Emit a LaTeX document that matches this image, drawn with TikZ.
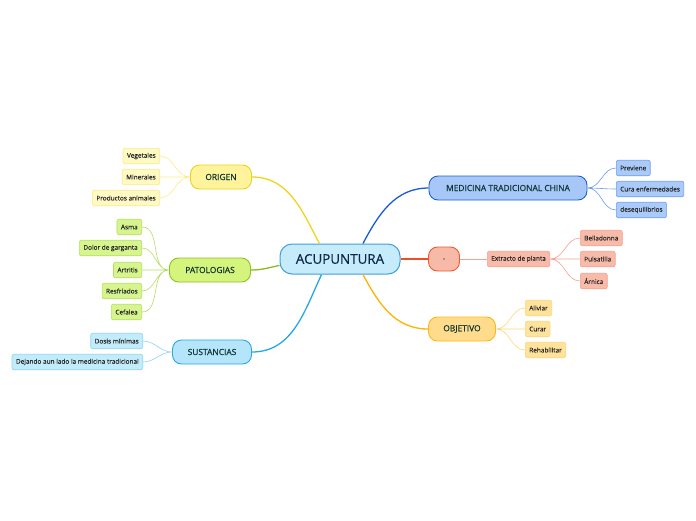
\documentclass[tikz,border=0pt]{standalone}
\usepackage{fontspec}
\setmainfont{Open Sans}
\newfontfamily\heavyfont[FakeBold=0.6]{Open Sans}
\newfontfamily\leaffont[FakeBold=0.25]{Open Sans}
\usepackage{xcolor}
\usepackage{tikz}
\usetikzlibrary{positioning}

\definecolor{rootfill}{HTML}{C6EBFB}
\definecolor{rootline}{HTML}{3F9FDB}
\definecolor{roottext}{HTML}{0E2848}
\definecolor{branchtext}{HTML}{103632}
\definecolor{leaftext}{HTML}{262626}
% origen
\definecolor{origfill}{HTML}{FFF49C}
\definecolor{origline}{HTML}{E8D41C}
\definecolor{origlink}{HTML}{F0D41C}
\definecolor{origleaf}{HTML}{FFF9C4}
\definecolor{origedge}{HTML}{FCEB8C}
% patologias
\definecolor{patofill}{HTML}{D5F47E}
\definecolor{patoline}{HTML}{8DC21F}
\definecolor{patolink}{HTML}{8AB920}
\definecolor{patoleaf}{HTML}{D7F58F}
\definecolor{patoedge}{HTML}{B5DF5E}
% sustancias
\definecolor{sustfill}{HTML}{B5E5FA}
\definecolor{sustline}{HTML}{2AA8E6}
\definecolor{sustlink}{HTML}{23A6EA}
\definecolor{sustleaf}{HTML}{C3ECFB}
\definecolor{sustedge}{HTML}{8FD3F3}
% medicina
\definecolor{mtcfill}{HTML}{A7C7F9}
\definecolor{mtcline}{HTML}{1E62D0}
\definecolor{mtclink}{HTML}{1A5CCF}
\definecolor{mtcleaf}{HTML}{AACAFA}
\definecolor{mtcedge}{HTML}{6E9EEA}
% punto
\definecolor{dotfill}{HTML}{F8BAA8}
\definecolor{dotline}{HTML}{EE5A2E}
\definecolor{dotlink}{HTML}{EE4E22}
\definecolor{dotleaf}{HTML}{F8BBAA}
\definecolor{dotedge}{HTML}{F5A192}
% objetivo
\definecolor{objfill}{HTML}{FFDC8C}
\definecolor{objline}{HTML}{FDB813}
\definecolor{objlink}{HTML}{FFB300}
\definecolor{objleaf}{HTML}{FFE29C}
\definecolor{objedge}{HTML}{FFD679}

\begin{document}
\begin{tikzpicture}[x=1pt, y=1pt,
  root/.style={draw=rootline, fill=rootfill, line width=1pt, rounded corners=12pt,
    minimum width=120pt, minimum height=30pt, text=roottext, font=\heavyfont\fontsize{13.4}{15}\selectfont},
  branch/.style={line width=0.9pt, rounded corners=9pt, minimum height=24pt, inner sep=0pt,
    text=branchtext, font=\heavyfont\fontsize{8.4}{10}\selectfont},
  leaf/.style={line width=0.6pt, rounded corners=2pt, minimum height=15.5pt, inner xsep=4pt,
    inner ysep=0pt, text=leaftext, font=\leaffont\fontsize{6.45}{7}\selectfont},
  link/.style={line width=1.3pt},
  twig/.style={line width=0.6pt}
]
\useasboundingbox (0,0) rectangle (696,-520);

% centre
\node[root] (root) at (340,-259) {ACUPUNTURA};

% branches
\node[branch, draw=origline, fill=origfill, minimum width=61pt] (origen) at (221,-177) {ORIGEN};
\node[branch, draw=patoline, fill=patofill, minimum width=81pt] (pato) at (210,-270) {PATOLOGIAS};
\node[branch, draw=sustline, fill=sustfill, minimum width=79pt] (sust) at (212,-352) {SUSTANCIAS};
\node[branch, draw=mtcline, fill=mtcfill, minimum width=158pt] (mtc) at (508,-188) {MEDICINA TRADICIONAL CHINA};
\node[branch, draw=dotline, fill=dotfill, minimum width=31pt] (dot) at (444,-259) {.};
\node[branch, draw=objline, fill=objfill, minimum width=67pt] (obj) at (462,-329) {OBJETIVO};

\draw[link, origlink] (root.143) to[out=118, in=0] (origen.east);
\draw[link, patolink] (root.186) to[out=192, in=0] (pato.east);
\draw[link, sustlink] (root.220) to[out=-115, in=0] (sust.east);
\draw[link, mtclink] (root.34) to[out=62, in=180] (mtc.west);
\draw[link, dotlink] (root.east) -- (dot.west);
\draw[link, objlink] (root.326) to[out=-62, in=180] (obj.west);

% origen
\node[leaf, draw=origedge, fill=origleaf, anchor=east] (veg) at (160,-156) {Vegetales};
\node[leaf, draw=origedge, fill=origleaf, anchor=east] (min) at (160,-177) {Minerales};
\node[leaf, draw=origedge, fill=origleaf, anchor=east] (prod) at (160,-198) {Productos animales};
\draw[twig, origedge] (origen.west) to[out=180, in=0] (veg.east)
  (origen.west) to[out=180, in=0] (min.east)
  (origen.west) to[out=180, in=0] (prod.east);

% patologias
\node[leaf, draw=patoedge, fill=patoleaf, anchor=east] (asma) at (142,-227) {Asma};
\node[leaf, draw=patoedge, fill=patoleaf, anchor=east] (dolor) at (142,-248) {Dolor de garganta};
\node[leaf, draw=patoedge, fill=patoleaf, anchor=east] (artr) at (142,-270) {Artritis};
\node[leaf, draw=patoedge, fill=patoleaf, anchor=east] (resf) at (142,-291) {Resfriados};
\node[leaf, draw=patoedge, fill=patoleaf, anchor=east] (cefa) at (142,-312) {Cefalea};
\draw[twig, patoedge] (pato.west) to[out=180, in=0] (asma.east)
  (pato.west) to[out=180, in=0] (dolor.east)
  (pato.west) to[out=180, in=0] (artr.east)
  (pato.west) to[out=180, in=0] (resf.east)
  (pato.west) to[out=180, in=0] (cefa.east);

% sustancias
\node[leaf, draw=sustedge, fill=sustleaf, anchor=east] (dosis) at (143,-341) {Dosis mínimas};
\node[leaf, draw=sustedge, fill=sustleaf, anchor=east] (dejando) at (143,-362) {Dejando aun lado la medicina tradicional};
\draw[twig, sustedge] (sust.west) to[out=180, in=0] (dosis.east)
  (sust.west) to[out=180, in=0] (dejando.east);

% medicina tradicional china
\node[leaf, draw=mtcedge, fill=mtcleaf, anchor=west] (prev) at (616,-168) {Previene};
\node[leaf, draw=mtcedge, fill=mtcleaf, anchor=west] (cura) at (616,-189) {Cura enfermedades};
\node[leaf, draw=mtcedge, fill=mtcleaf, anchor=west] (deseq) at (616,-210) {desequilibrios};
\draw[twig, mtcedge] (mtc.east) to[out=0, in=180] (prev.west)
  (mtc.east) to[out=0, in=180] (cura.west)
  (mtc.east) to[out=0, in=180] (deseq.west);

% punto
\node[leaf, draw=dotedge, fill=dotleaf, anchor=west] (extr) at (487,-259) {Extracto de planta};
\node[leaf, draw=dotedge, fill=dotleaf, anchor=west] (bella) at (580,-238) {Belladonna};
\node[leaf, draw=dotedge, fill=dotleaf, anchor=west] (puls) at (580,-259) {Pulsatilla};
\node[leaf, draw=dotedge, fill=dotleaf, anchor=west] (arni) at (580,-281) {Árnica};
\draw[twig, dotedge] (dot.east) -- (extr.west);
\draw[twig, dotedge] (extr.east) to[out=0, in=180] (bella.west)
  (extr.east) to[out=0, in=180] (puls.west)
  (extr.east) to[out=0, in=180] (arni.west);

% objetivo
\node[leaf, draw=objedge, fill=objleaf, anchor=west] (aliv) at (525,-308) {Aliviar};
\node[leaf, draw=objedge, fill=objleaf, anchor=west] (curar) at (525,-329) {Curar};
\node[leaf, draw=objedge, fill=objleaf, anchor=west] (rehab) at (525,-350) {Rehabilitar};
\draw[twig, objedge] (obj.east) to[out=0, in=180] (aliv.west)
  (obj.east) to[out=0, in=180] (curar.west)
  (obj.east) to[out=0, in=180] (rehab.west);
\end{tikzpicture}
\end{document}
